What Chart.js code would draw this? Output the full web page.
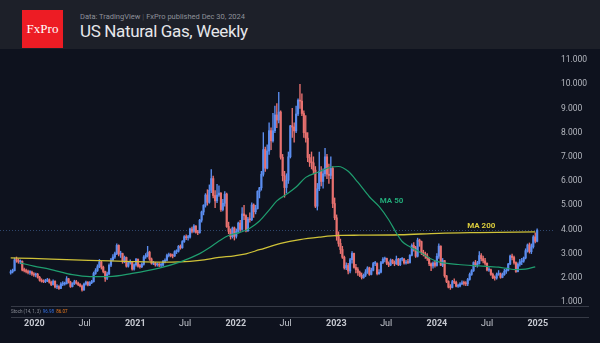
<!DOCTYPE html>
<html>
<head>
<meta charset="utf-8">
<title>US Natural Gas, Weekly</title>
<script src="https://cdn.jsdelivr.net/npm/chart.js@4.4.1/dist/chart.umd.min.js"></script>
<style>
  html, body { margin: 0; padding: 0; background: #0e121e; }
  #page { position: relative; width: 600px; height: 343px; overflow: hidden; background: #0e121e; font-family: Roboto, "Noto Sans", sans-serif; }
  #head { position: absolute; left: 0; top: 0; width: 600px; height: 49px; background: #1d2029; }
  #logo { position: absolute; left: 22px; top: 10px; width: 41px; height: 38px; background: #ed1c24; color: #fff;
          font: 13px "Liberation Serif", serif; line-height: 38px; text-align: center; }
  #source { position: absolute; left: 80px; top: 12px; font-size: 7.5px; color: #8e919a; white-space: nowrap; }
  #source span { color: #50535c; padding: 0 2px; }
  #title { position: absolute; left: 80px; top: 21px; font-size: 17px; letter-spacing: -0.35px; color: #e6e7eb; white-space: nowrap; }
  #chartBox { position: absolute; left: 0; top: 49px; width: 600px; height: 294px; }
</style>
</head>
<body>
<div id="page">
  <div id="head">
    <div id="logo">FxPro</div>
    <div id="source">Data: TradingView<span>|</span>FxPro published Dec 30, 2024</div>
    <div id="title">US Natural Gas, Weekly</div>
  </div>
  <div id="chartBox"><canvas id="gasChart" width="600" height="294"></canvas></div>
</div>
<script>
// weekly candles, first week starts 7 Oct 2019; open = previous close
var firstOpen = 2.20;

var weekClose = [
  2.25, 2.30, 2.74, 2.72, 2.66, 2.68, 2.32, 2.30, 2.26, 2.22, 2.24, 2.16, 2.12,
  2.14, 2.02, 1.90, 1.86, 1.84, 1.88, 1.92, 1.82, 1.72, 1.86, 1.62, 1.64, 1.56,
  1.74, 1.74, 1.76, 1.96, 1.82, 1.64, 1.76, 1.84, 1.78, 1.72, 1.66, 1.50, 1.74,
  1.82, 1.70, 1.80, 1.84, 2.18, 2.30, 2.46, 2.66, 2.44, 2.26, 1.98, 2.16, 2.52,
  2.74, 2.86, 3.00, 3.34, 2.98, 3.00, 2.66, 2.84, 2.48, 2.62, 2.66, 2.36, 2.54,
  2.76, 2.48, 2.46, 2.56, 2.86, 2.92, 3.06, 2.78, 2.60, 2.60, 2.54, 2.56, 2.52,
  2.52, 2.68, 2.72, 2.92, 2.96, 2.92, 2.90, 3.08, 3.10, 3.30, 3.24, 3.50, 3.70,
  3.66, 3.68, 4.02, 3.92, 4.14, 3.88, 3.86, 4.38, 4.72, 5.00, 5.42, 5.12, 5.62,
  6.10, 5.40, 5.18, 5.42, 5.50, 4.82, 5.08, 5.46, 4.12, 3.92, 3.70, 4.06, 3.72,
  3.92, 4.26, 4.00, 4.64, 4.57, 3.94, 4.43, 4.40, 5.01, 4.73, 4.86, 5.57, 5.72,
  6.28, 7.30, 6.53, 7.24, 8.08, 7.66, 8.08, 8.73, 8.52, 8.85, 6.98, 6.22, 5.73,
  6.03, 7.00, 8.28, 8.23, 8.07, 8.77, 9.34, 9.30, 8.79, 8.00, 7.77, 6.97, 6.77,
  6.75, 6.45, 4.96, 5.68, 6.40, 5.98, 6.30, 7.00, 6.28, 6.23, 6.52, 5.07, 4.48,
  3.71, 3.42, 3.17, 2.85, 2.41, 2.51, 2.28, 2.75, 3.01, 2.43, 2.34, 2.22, 2.10,
  2.01, 2.11, 2.24, 2.41, 2.14, 2.31, 2.59, 2.59, 2.17, 2.23, 2.63, 2.77, 2.80,
  2.60, 2.53, 2.73, 2.63, 2.58, 2.77, 2.54, 2.77, 2.77, 2.61, 2.64, 2.63, 2.93,
  3.34, 3.24, 2.89, 3.56, 3.50, 3.04, 2.97, 2.90, 2.81, 2.58, 2.49, 2.61, 2.51,
  2.89, 3.31, 2.52, 2.71, 2.08, 1.85, 1.61, 1.60, 1.84, 1.81, 1.65, 1.66, 1.75,
  1.78, 1.77, 1.75, 1.93, 2.14, 2.29, 2.63, 2.52, 2.59, 2.92, 2.79, 2.70, 2.60,
  2.32, 2.33, 2.14, 2.00, 1.99, 2.15, 2.16, 2.02, 2.13, 2.27, 2.31, 2.57, 2.90,
  2.84, 2.63, 2.26, 2.56, 2.66, 2.69, 2.82, 3.12, 3.36, 3.08, 3.28, 3.69, 3.51,
  3.97
];

var weekHigh = [
  2.32, 2.36, 2.82, 2.86, 2.78, 2.74, 2.70, 2.40, 2.36, 2.32, 2.30, 2.28, 2.22,
  2.20, 2.18, 2.06, 1.96, 1.92, 1.94, 1.98, 1.96, 1.86, 1.92, 1.88, 1.72, 1.68,
  1.80, 1.84, 1.82, 2.05, 1.98, 1.86, 1.80, 1.90, 1.90, 1.82, 1.76, 1.70, 1.78,
  1.86, 1.84, 1.84, 1.90, 2.24, 2.38, 2.54, 2.76, 2.68, 2.48, 2.28, 2.24, 2.58,
  2.80, 2.96, 3.06, 3.40, 3.36, 3.10, 3.02, 2.90, 2.86, 2.68, 2.74, 2.68, 2.58,
  2.80, 2.78, 2.56, 2.62, 2.92, 3.00, 3.30, 3.10, 2.82, 2.68, 2.64, 2.62, 2.62,
  2.60, 2.72, 2.78, 2.98, 3.02, 3.00, 2.98, 3.12, 3.16, 3.34, 3.36, 3.54, 3.74,
  3.78, 3.76, 4.06, 4.10, 4.20, 4.16, 3.96, 4.42, 4.76, 5.02, 5.48, 5.64, 5.84,
  6.47, 6.20, 5.60, 5.86, 5.80, 5.52, 5.24, 5.56, 5.50, 4.30, 4.02, 4.10, 4.10,
  4.02, 4.30, 4.38, 4.90, 5.00, 4.60, 4.50, 4.68, 5.10, 5.06, 5.00, 5.60, 5.74,
  6.40, 8.00, 7.40, 7.50, 8.40, 8.20, 8.80, 9.10, 9.20, 9.66, 8.90, 7.10, 6.40,
  6.30, 7.20, 8.30, 9.00, 8.40, 9.10, 9.40, 10.00, 9.60, 8.90, 8.70, 8.00, 7.10,
  7.20, 7.00, 6.60, 5.90, 7.20, 6.60, 6.50, 7.35, 7.10, 6.70, 7.00, 6.60, 5.30,
  4.60, 3.90, 3.60, 3.30, 2.90, 2.62, 2.60, 2.80, 3.08, 3.02, 2.56, 2.42, 2.28,
  2.20, 2.16, 2.34, 2.46, 2.44, 2.40, 2.64, 2.68, 2.62, 2.34, 2.68, 2.84, 2.86,
  2.82, 2.66, 2.78, 2.76, 2.70, 2.90, 2.80, 2.80, 2.84, 2.80, 2.72, 2.76, 2.96,
  3.40, 3.46, 3.30, 3.64, 3.60, 3.52, 3.14, 3.06, 3.00, 2.84, 2.62, 2.66, 2.70,
  3.00, 3.40, 3.32, 2.80, 2.72, 2.10, 1.88, 1.72, 1.90, 1.96, 1.86, 1.74, 1.80,
  1.88, 1.86, 1.84, 1.98, 2.20, 2.34, 2.66, 2.72, 2.68, 3.08, 3.00, 2.90, 2.80,
  2.62, 2.42, 2.36, 2.20, 2.08, 2.20, 2.30, 2.20, 2.20, 2.36, 2.40, 2.60, 2.94,
  2.98, 2.90, 2.66, 2.62, 2.76, 2.80, 2.86, 3.20, 3.40, 3.44, 3.40, 3.74, 3.86,
  4.02
];

var weekLow = [
  2.15, 2.20, 2.28, 2.64, 2.60, 2.58, 2.28, 2.24, 2.20, 2.16, 2.14, 2.10, 2.06,
  2.04, 1.98, 1.86, 1.82, 1.80, 1.80, 1.84, 1.78, 1.68, 1.70, 1.58, 1.55, 1.52,
  1.55, 1.68, 1.70, 1.74, 1.78, 1.60, 1.62, 1.72, 1.74, 1.68, 1.62, 1.45, 1.48,
  1.70, 1.66, 1.68, 1.76, 1.82, 2.14, 2.26, 2.42, 2.36, 2.20, 1.85, 1.92, 2.12,
  2.46, 2.70, 2.80, 2.96, 2.90, 2.84, 2.60, 2.62, 2.44, 2.44, 2.56, 2.32, 2.32,
  2.48, 2.44, 2.40, 2.42, 2.52, 2.80, 2.86, 2.72, 2.56, 2.54, 2.48, 2.48, 2.46,
  2.44, 2.48, 2.62, 2.70, 2.86, 2.86, 2.82, 2.88, 3.00, 3.06, 3.18, 3.22, 3.46,
  3.58, 3.56, 3.64, 3.86, 3.88, 3.84, 3.78, 3.84, 4.30, 4.60, 4.92, 5.00, 5.08,
  5.52, 5.30, 4.90, 5.10, 5.36, 4.74, 4.76, 4.96, 4.08, 3.82, 3.60, 3.64, 3.56,
  3.64, 3.86, 3.92, 3.96, 4.40, 3.90, 3.92, 4.30, 4.36, 4.50, 4.64, 4.84, 5.30,
  5.62, 6.20, 6.40, 6.50, 7.10, 7.30, 7.60, 8.00, 8.20, 8.40, 6.90, 6.00, 5.33,
  5.50, 5.90, 6.95, 7.80, 7.60, 8.00, 8.70, 9.00, 8.70, 7.80, 7.60, 6.80, 6.60,
  6.50, 6.30, 4.90, 4.80, 5.60, 5.80, 5.70, 6.20, 6.10, 5.90, 6.10, 4.90, 4.40,
  3.55, 3.30, 3.00, 2.80, 2.36, 2.34, 2.16, 2.20, 2.60, 2.40, 2.20, 2.10, 2.05,
  1.95, 1.98, 2.05, 2.18, 2.10, 2.12, 2.28, 2.50, 2.12, 2.14, 2.20, 2.58, 2.66,
  2.54, 2.46, 2.50, 2.58, 2.50, 2.55, 2.50, 2.50, 2.70, 2.56, 2.56, 2.58, 2.60,
  2.90, 3.10, 2.84, 2.86, 3.30, 2.96, 2.90, 2.80, 2.72, 2.50, 2.30, 2.40, 2.44,
  2.48, 2.80, 2.50, 2.46, 2.02, 1.80, 1.58, 1.52, 1.58, 1.76, 1.62, 1.60, 1.62,
  1.72, 1.70, 1.68, 1.68, 1.90, 2.10, 2.26, 2.46, 2.44, 2.56, 2.70, 2.62, 2.52,
  2.28, 2.26, 2.10, 1.96, 1.90, 1.94, 2.10, 1.98, 2.00, 2.10, 2.18, 2.28, 2.54,
  2.74, 2.56, 2.22, 2.24, 2.48, 2.54, 2.64, 2.78, 3.06, 3.02, 3.00, 3.22, 3.44,
  3.48
];

// moving averages, sampled at the listed week numbers
var ma50Week  = [5, 12, 20, 32, 41, 51, 63, 77, 88, 98, 103, 108, 113, 119, 124, 129, 134, 138, 143, 148,
                 153, 160, 166, 170, 175, 180, 186, 191, 196, 200, 203, 207, 212, 217, 222, 232, 243, 253, 262, 267, 272];
var ma50Value = [2.62, 2.48, 2.36, 2.13, 2.05, 2.05, 2.18, 2.40, 2.66, 3.00, 3.24, 3.52, 3.75, 3.88, 4.05, 4.35, 4.80, 5.18, 5.45, 5.75,
                 6.15, 6.38, 6.58, 6.60, 6.40, 5.95, 5.35, 4.95, 4.40, 3.85, 3.50, 3.28, 3.07, 2.82, 2.66, 2.55, 2.49, 2.44, 2.34, 2.36, 2.45];

var ma200Week  = [0, 11, 29, 46, 63, 77, 88, 98, 108, 116, 122, 129, 140, 150, 160, 170, 181, 202, 222, 243, 272];
var ma200Value = [2.82, 2.80, 2.75, 2.71, 2.67, 2.65, 2.66, 2.72, 2.84, 2.91, 2.99, 3.16, 3.42, 3.58, 3.68, 3.75, 3.76, 3.78, 3.84, 3.87, 3.90];

var priceTicks = [1, 2, 3, 4, 5, 6, 7, 8, 9, 10, 11];
var timeTickWeek  = [12.29, 38.29, 64.57, 90.43, 116.71, 142.57, 168.86, 194.71, 221, 247, 273.29];
var timeTickLabel = ['2020', 'Jul', '2021', 'Jul', '2022', 'Jul', '2023', 'Jul', '2024', 'Jul', '2025'];

var upColor = '#5b8def';
var downColor = '#e8716f';

var weekOpen = weekClose.map(function (c, i) { return i === 0 ? firstOpen : weekClose[i - 1]; });
var candleColor = weekClose.map(function (c, i) { return c >= weekOpen[i] ? upColor : downColor; });

var bodies = weekClose.map(function (c, i) { return { x: i, y: [weekOpen[i], c] }; });
var wicks = weekClose.map(function (c, i) {
  return { x: i, y: [Math.min(weekLow[i], weekOpen[i], c), Math.max(weekHigh[i], weekOpen[i], c)] };
});

var captions = [
  { text: 'MA 50', week: 197.5, price: 5.17, color: '#22a878' },
  { text: 'MA 200', week: 244, price: 4.14, color: '#d9cb3c' }
];

var overlay = {
  id: 'overlay',
  beforeDatasetsDraw: function (chart) {
    var ctx = chart.ctx, area = chart.chartArea;
    var py = Math.round(chart.scales.y.getPixelForValue(weekClose[weekClose.length - 1])) + 0.5;
    ctx.save();
    ctx.strokeStyle = 'rgba(70,105,160,0.6)';
    ctx.lineWidth = 1;
    ctx.setLineDash([1, 2]);
    ctx.beginPath();
    ctx.moveTo(area.left, py);
    ctx.lineTo(area.right, py);
    ctx.stroke();
    ctx.restore();
  },
  afterDraw: function (chart) {
    var ctx = chart.ctx, area = chart.chartArea;
    ctx.save();
    // pane separators and the collapsed Stoch pane
    ctx.strokeStyle = '#363a46';
    ctx.lineWidth = 1;
    [area.bottom + 0.5, area.bottom + 11.5].forEach(function (y) {
      ctx.beginPath();
      ctx.moveTo(11, y);
      ctx.lineTo(589, y);
      ctx.stroke();
    });
    ctx.font = '4.5px Roboto';
    ctx.textBaseline = 'middle';
    var x = 11, ty = area.bottom + 6;
    [['Stoch (14, 1, 3)', '#8a8d96'], ['96.98', '#3572e6'], ['86.07', '#ef7b1c']].forEach(function (p) {
      ctx.fillStyle = p[1];
      ctx.fillText(p[0], x, ty);
      x += ctx.measureText(p[0]).width + 2;
    });
    // moving average captions
    ctx.font = 'bold 8px Roboto';
    ctx.textAlign = 'center';
    captions.forEach(function (c) {
      ctx.fillStyle = c.color;
      ctx.fillText(c.text, chart.scales.x.getPixelForValue(c.week), chart.scales.y.getPixelForValue(c.price));
    });
    ctx.restore();
  }
};

var ctx = document.getElementById('gasChart').getContext('2d');
var chart = new Chart(ctx, {
  type: 'bar',
  data: {
    datasets: [{
      type: 'line',
      label: 'MA 50',
      data: ma50Week.map(function (w, i) { return { x: w, y: ma50Value[i] }; }),
      borderColor: '#1f9e6f',
      borderWidth: 1.2,
      pointRadius: 0,
      cubicInterpolationMode: 'monotone',
      order: 0
    }, {
      type: 'line',
      label: 'MA 200',
      data: ma200Week.map(function (w, i) { return { x: w, y: ma200Value[i] }; }),
      borderColor: '#cfc238',
      borderWidth: 1.3,
      pointRadius: 0,
      cubicInterpolationMode: 'monotone',
      order: 0
    }, {
      label: 'body',
      data: bodies,
      backgroundColor: candleColor,
      barThickness: 1.5,
      minBarLength: 1,
      grouped: false,
      order: 1
    }, {
      label: 'wick',
      data: wicks,
      backgroundColor: candleColor,
      barThickness: 0.7,
      grouped: false,
      order: 2
    }]
  },
  options: {
    responsive: false,
    animation: false,
    events: [],
    layout: { padding: 0 },
    plugins: { legend: { display: false }, tooltip: { enabled: false } },
    scales: {
      x: {
        type: 'linear',
        min: -5.55,
        max: 282.25,
        offset: false,
        grid: { display: false, drawTicks: false, offset: false },
        border: { display: false },
        afterBuildTicks: function (s) { s.ticks = timeTickWeek.map(function (v) { return { value: v }; }); },
        afterFit: function (s) { s.height = 37; s.paddingLeft = 0; s.paddingRight = 0; },
        ticks: {
          autoSkip: false,
          maxRotation: 0,
          padding: 12,
          color: '#c6c9d1',
          font: function (c) {
            return { family: 'Roboto', size: 9, weight: /^\d/.test(timeTickLabel[c.index]) ? 'bold' : 'normal' };
          },
          callback: function (v, i) { return timeTickLabel[i]; }
        }
      },
      y: {
        position: 'right',
        min: 0.835,
        max: 11.455,
        grid: { display: false, drawTicks: false },
        border: { display: false },
        afterBuildTicks: function (s) { s.ticks = priceTicks.map(function (v) { return { value: v }; }); },
        afterFit: function (s) { s.width = 45; s.paddingTop = 0; s.paddingBottom = 0; },
        ticks: {
          padding: 6,
          color: '#b4b7bf',
          font: { family: 'Roboto', size: 8.5 },
          callback: function (v) { return v.toFixed(3); }
        }
      }
    }
  },
  plugins: [overlay]
});
</script>
</body>
</html>
